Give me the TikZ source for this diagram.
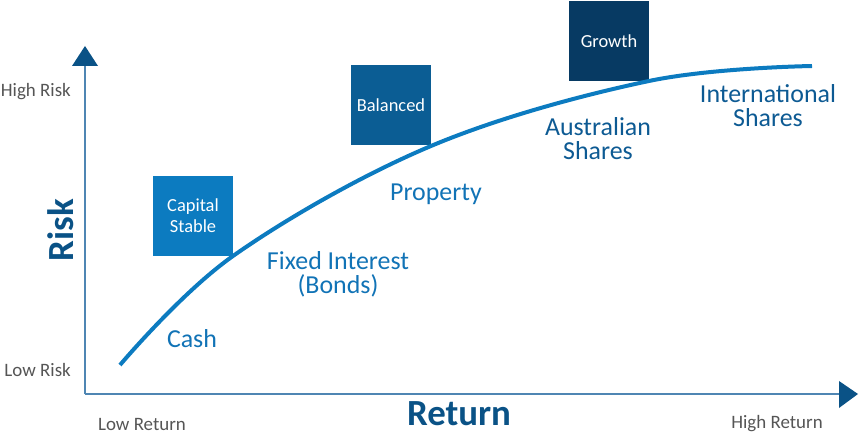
\documentclass[tikz,border=0pt]{standalone}
\usepackage{fontspec}
\setmainfont{Carlito}
\definecolor{axisline}{HTML}{4F86B3}
\definecolor{axisdark}{HTML}{0A5286}
\definecolor{lightblue}{HTML}{0C7BC0}
\definecolor{midblue}{HTML}{0B5D94}
\definecolor{darkblue}{HTML}{073A63}
\definecolor{labgray}{HTML}{555555}
\definecolor{txtlight}{HTML}{1173B6}
\definecolor{txtdark}{HTML}{0D5A93}
\begin{document}
\begin{tikzpicture}[x=1bp,y=-1bp,
  fundbox/.style={minimum width=80bp,minimum height=80bp,inner sep=0pt,text=white,font=\fontsize{18.5}{22}\selectfont,align=center},
  glabel/.style={text=labgray,font=\fontsize{19}{20}\selectfont,inner sep=0pt},
  clabel/.style={font=\fontsize{26}{24}\selectfont,align=center,inner sep=0pt},
  axtitle/.style={text=axisdark,font=\fontsize{37}{40}\selectfont\bfseries,inner sep=0pt}]
\useasboundingbox (0,0) rectangle (859,435);
% axes
\coordinate (O) at (85,394);
\coordinate (ytop) at (85,66);
\coordinate (xend) at (839,394);
\draw[axisline,line width=1.6bp] (O) -- (ytop);
\draw[axisline,line width=1.6bp] (O) -- (xend);
\fill[axisdark] (72,66) -- (98,66) -- (85,46) -- cycle;
\fill[axisdark] (839,381) -- (839,408) -- (858,394) -- cycle;
% boxes
\node[fundbox,fill=lightblue] (cap) at (193,216) {Capital\\[-1bp]Stable};
\node[fundbox,fill=midblue] (bal) at (391,105) {Balanced};
\node[fundbox,fill=darkblue] (gro) at (609,41) {Growth};
% curve
\draw[lightblue,line width=4bp,line cap=butt] plot[smooth,tension=0.6] coordinates {(120,365) (233,256) (431,146) (649,81) (812,66)};
% axis labels
\node[glabel,anchor=east] (hr) at (71,92) {High Risk};
\node[glabel,anchor=east] (lr) at (71,370) {Low Risk};
\node[glabel] (lret) at (142,424) {Low Return};
\node[glabel] (hret) at (777,424) {High Return};
\node[axtitle] (ret) at (459,414) {Return};
\node[axtitle,rotate=90] (risk) at (61,230) {Risk};
% asset labels
\node[clabel,text=txtlight] (cash) at (192,339) {Cash};
\node[clabel,text=txtlight] (fixed) at (338,274) {Fixed Interest\\(Bonds)};
\node[clabel,text=txtlight] (prop) at (436,194) {Property};
\node[clabel,text=txtdark] (aus) at (598,139) {Australian\\Shares};
\node[clabel,text=txtdark] (intl) at (768,105.5) {International\\Shares};
\end{tikzpicture}
\end{document}
